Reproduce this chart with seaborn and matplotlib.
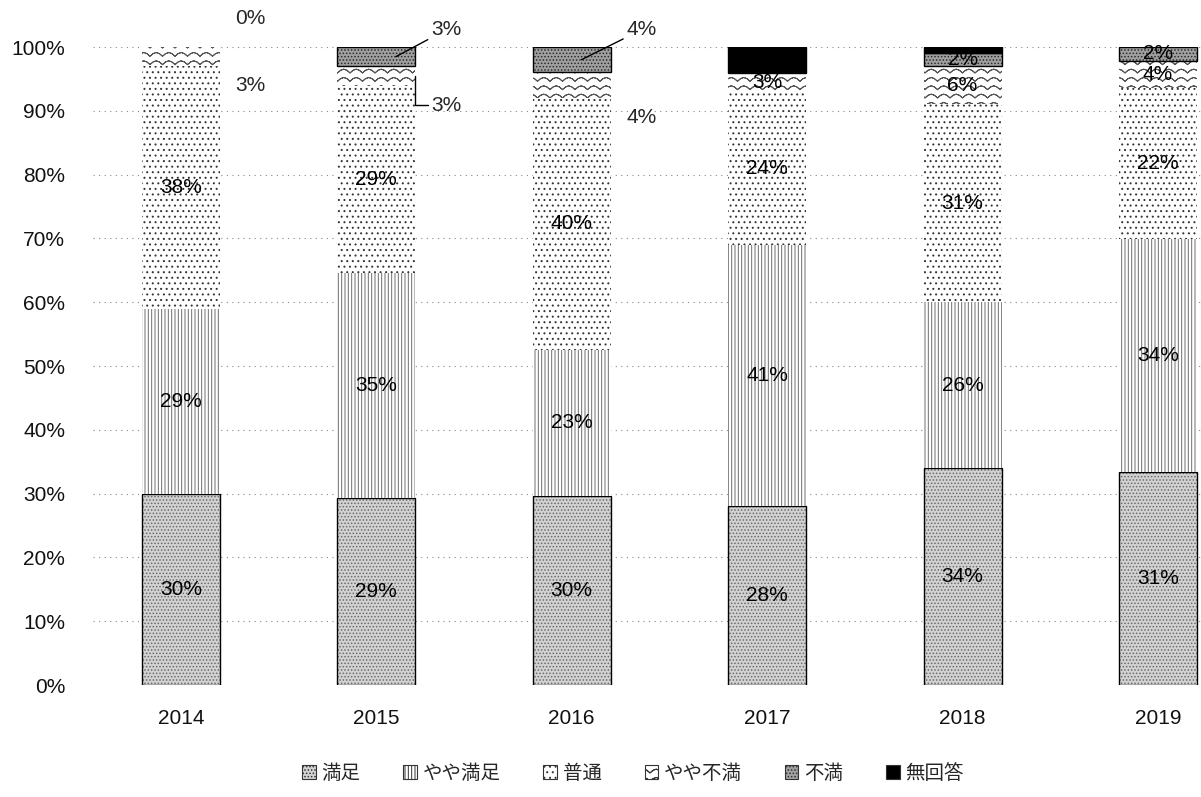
import matplotlib
matplotlib.use('Agg')
import matplotlib.hatch as mhatch
import matplotlib.pyplot as plt
import numpy as np
import seaborn as sns
from matplotlib.patches import Patch
from matplotlib.path import Path

years = ['2014', '2015', '2016', '2017', '2018', '2019']
categories = ['満足', 'やや満足', '普通', 'やや不満', '不満', '無回答']
manzoku = [30, 29, 30, 28, 34, 31]
yaya_manzoku = [29, 35, 23, 41, 26, 34]
futsu = [38, 29, 40, 24, 31, 22]
yaya_fuman = [3, 3, 4, 3, 6, 4]
fuman = [0, 3, 4, 0, 2, 2]
mukaitou = [0, 0, 0, 4, 1, 0]

series = [manzoku, yaya_manzoku, futsu, yaya_fuman, fuman, mukaitou]


# wavy hatch for "やや不満" (takes over the '*' hatch character)
class WaveHatch(mhatch.HatchPatternBase):
    def __init__(self, hatch, density):
        self.num_lines = int(hatch.count('*') * density)
        self.humps = max(int(self.num_lines * 0.67), 1)
        self.npts = self.humps * 4 + 1 if self.num_lines else 0
        # each row goes out and back along the same points so agg's fill adds nothing
        self.row = 2 * self.npts - 1 if self.num_lines else 0
        self.num_vertices = self.num_lines * self.row

    def set_vertices_and_codes(self, vertices, codes):
        n = self.num_lines
        xs = np.linspace(0.0, 1.0, self.npts)
        xs = np.concatenate([xs, xs[-2::-1]])
        wave = 0.45 / n * np.abs(np.sin(np.pi * self.humps * xs))
        for r in range(n):
            base = (r + 0.25) / n
            sl = slice(r * self.row, (r + 1) * self.row)
            vertices[sl, 0] = xs
            vertices[sl, 1] = base + wave
            codes[sl] = Path.LINETO
            codes[r * self.row] = Path.MOVETO


mhatch._hatch_types = [t for t in mhatch._hatch_types if t.__name__ != 'Stars'] + [WaveHatch]

# face colour, hatch, hatch colour, edge colour
styles = {
    '満足': ('#d2d2d2', '.....', '#6a6a6a', 'black'),
    'やや満足': ('white', '|||||', '#6e6e6e', 'none'),
    '普通': ('white', '...', '#333333', 'none'),
    'やや不満': ('white', '**', '#555555', 'none'),
    '不満': ('#a0a0a0', '.....', '#2a2a2a', 'black'),
    '無回答': ('black', None, 'black', 'black'),
}

sns.set_theme(style='white')
plt.rcParams['font.family'] = ['Liberation Sans', 'Noto Sans CJK JP']
plt.rcParams['hatch.linewidth'] = 0.7

fig = plt.figure(figsize=(12.01, 7.97), dpi=100)
ax = fig.add_axes([0.0774, 0.1405, 0.9226, 0.8005])

vals = np.array(series, dtype=float)
totals = vals.sum(axis=0)
fracs = vals / totals
bottom = np.zeros(len(years))


def layer(frac, bottom, face, edge, lw, hatch=None):
    n0 = len(ax.patches)
    sns.barplot(x=years, y=frac, bottom=bottom, width=0.4, color='white',
                errorbar=None, ax=ax, saturation=1)
    for p, h in zip(ax.patches[n0:], frac):
        p.set_facecolor(face)
        p.set_edgecolor(edge)
        p.set_linewidth(lw if h > 0 else 0)
        if hatch:
            p.set_hatch(hatch)


for cat, frac in zip(categories, fracs):
    face, hatch, hcol, edge = styles[cat]
    layer(frac, bottom, face, 'none', 0)
    if hatch:
        layer(frac, bottom, 'none', hcol, 0, hatch)
    if edge != 'none':
        layer(frac, bottom, 'none', edge, 1.0)
    bottom = bottom + frac

# value labels inside the bars
outside = {(0, 3), (0, 4), (1, 3), (1, 4), (2, 3), (2, 4)}
bottom = np.zeros(len(years))
for k, (cat, frac) in enumerate(zip(categories, fracs)):
    for i in range(len(years)):
        v = int(vals[k, i])
        if cat != '無回答' and v > 0 and (i, k) not in outside:
            ax.text(i, bottom[i] + frac[i] / 2, f'{v}%', ha='center', va='center',
                    fontsize=15, color='black')
    bottom = bottom + frac

cum = np.cumsum(fracs, axis=0)
line_kw = dict(arrowstyle='-', color='black', lw=1, shrinkA=0, shrinkB=0)
# 2014
ax.text(0.28, 1.045, f'{fuman[0]}%', ha='left', va='center', fontsize=15, clip_on=False)
ax.text(0.28, 0.94, f'{yaya_fuman[0]}%', ha='left', va='center', fontsize=15)
# 2015
ax.annotate(f'{fuman[1]}%', xy=(1.1, cum[3, 1] + fracs[4, 1] / 2), xytext=(1.28, 1.027),
            ha='left', va='center', fontsize=15, annotation_clip=False,
            arrowprops=dict(**line_kw))
ax.annotate(f'{yaya_fuman[1]}%', xy=(1.2, cum[2, 1] + fracs[3, 1] / 2), xytext=(1.28, 0.909),
            ha='left', va='center', fontsize=15,
            arrowprops=dict(**line_kw, connectionstyle='angle,angleA=0,angleB=90,rad=0'))
# 2016
ax.annotate(f'{fuman[2]}%', xy=(2.05, cum[3, 2] + fracs[4, 2] / 2), xytext=(2.28, 1.027),
            ha='left', va='center', fontsize=15, annotation_clip=False,
            arrowprops=dict(**line_kw))
ax.text(2.28, 0.889, f'{yaya_fuman[2]}%', ha='left', va='center', fontsize=15)

ax.set_xlim(-0.45, 5.22)
ax.set_ylim(0, 1)
ax.set_yticks(np.arange(0, 1.01, 0.1))
ax.set_yticklabels([f'{t}%' for t in range(0, 101, 10)])
ax.yaxis.grid(True, linestyle=(0, (1, 4)), color='#888888', lw=0.8)
ax.xaxis.grid(False)
ax.set_axisbelow(True)
for s in ax.spines.values():
    s.set_visible(False)
ax.tick_params(axis='x', length=0, pad=17, labelsize=15, colors='#111111')
ax.tick_params(axis='y', length=0, pad=20, labelsize=15, colors='#111111')
ax.set_xlabel('')
ax.set_ylabel('')

handles = []
for cat in categories:
    face, hatch, hcol, edge = styles[cat]
    handles.append(Patch(facecolor=face, edgecolor='#333333', hatch=hatch, lw=0.8))
fig.legend(handles, categories, loc='center', bbox_to_anchor=(0.527, 0.03), ncol=6,
           frameon=False, fontsize=14, handlelength=0.7, handleheight=0.7,
           handletextpad=0.3, columnspacing=2.2)

fig.savefig('out.png', dpi=100)
